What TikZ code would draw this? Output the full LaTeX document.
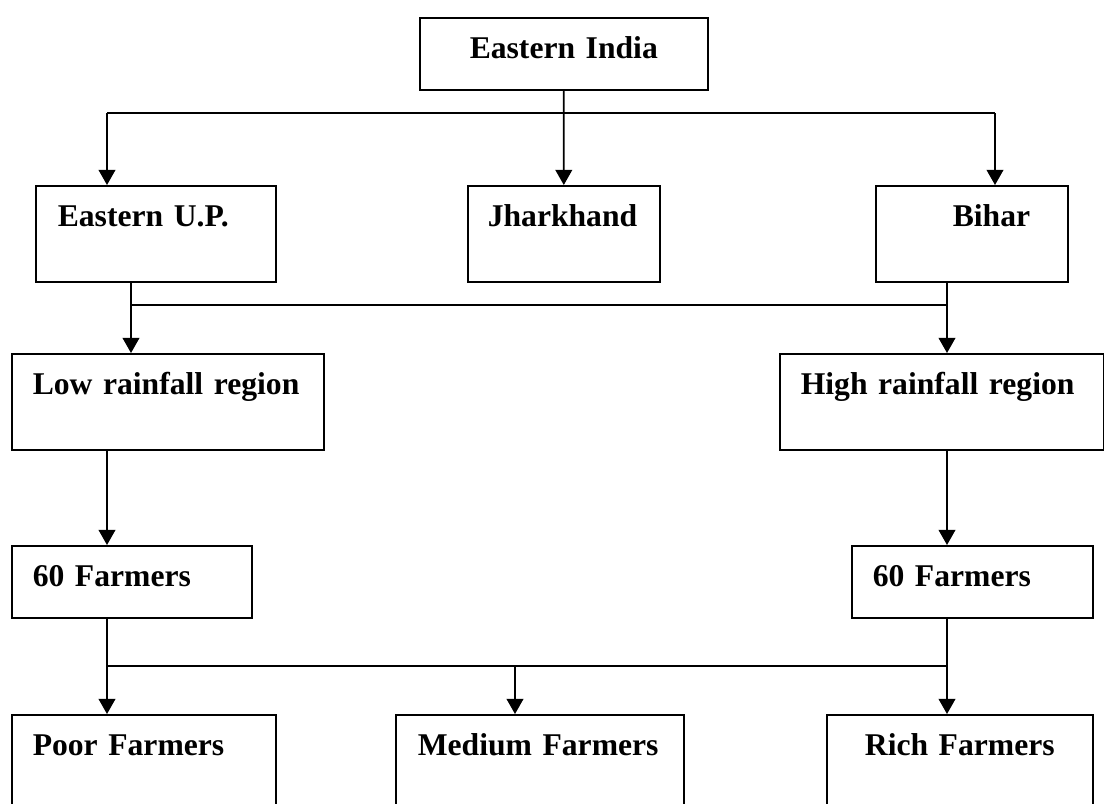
\documentclass[tikz,border=0pt]{standalone}
\usepackage{fontspec}
\setmainfont{Liberation Serif}
\usetikzlibrary{arrows.meta}

\begin{document}
\begin{tikzpicture}[x=0.025cm, y=-0.025cm]
	\tikzstyle{Box}   = [draw, rectangle, anchor=north west, inner sep=0pt, line width=1.1pt, font=\fontsize{22.5}{27}\selectfont\bfseries, text height=1.025cm, align=left]
	\tikzstyle{Tall}  = [text depth=1.375cm]
	\tikzstyle{Short} = [text depth=0.775cm]
	\tikzstyle{Mid}   = [align=center]
	\tikzstyle{Line}  = [line width=1.2pt]
	\tikzstyle{Arrow} = [Line, -{Triangle[width=0.42cm, length=0.38cm]}]
	\tikzset{Pad/.style={execute at begin node={\hspace*{#1}}}}

	\useasboundingbox (0,0) rectangle (1104,803);
	\clip (0,0) rectangle (1104,803);

	\node (ei) at (419,17) [Box][Short][Mid, text width=7.2cm] {Eastern India};

	\node (eup) at (35,185) [Box][Tall][text width=6cm, Pad=0.55cm] {Eastern U.P.};
	\node (jh) at (467,185) [Box][Tall][text width=4.8cm, Pad=0.5cm] {Jharkhand};
	\node (bihar) at (875,185) [Box][Tall][text width=4.8cm, Pad=1.925cm] {Bihar};

	\node (low) at (11,353) [Box][Tall][text width=7.8cm, Pad=0.525cm] {Low rainfall region};
	\node (high) at (779,353) [Box][Tall][text width=8.1cm, Pad=0.525cm] {High rainfall region};

	\node (fl) at (11,545) [Box][Short][text width=6cm, Pad=0.525cm] {60 Farmers};
	\node (fr) at (851,545) [Box][Short][text width=6.025cm, Pad=0.525cm] {60 Farmers};

	\node (poor) at (11,714) [Box][Tall][text width=6.6cm, Pad=0.525cm] {Poor Farmers};
	\node (med) at (395,714) [Box][Tall][text width=7.2cm, Pad=0.55cm] {Medium Farmers};
	\node (rich) at (826,714) [Box][Tall][Mid, text width=6.65cm] {Rich Farmers};

	% junction points of the branch lines
	\coordinate (tl) at (107,113);
	\coordinate (tr) at (995,113);
	\coordinate (ml) at (131,305);
	\coordinate (mr) at (947,305);
	\coordinate (bl) at (107,666);
	\coordinate (bm) at (515,666);
	\coordinate (br) at (947,666);

	\draw [Arrow] (ei) -- (jh);
	\draw [Line] (tl) -- (tr);
	\draw [Arrow] (tl) -- (tl |- eup.north);
	\draw [Arrow] (tr) -- (tr |- bihar.north);

	\draw [Line] (ml |- eup.south) -- (ml) -- (mr) -- (mr |- bihar.south);
	\draw [Arrow] (ml) -- (ml |- low.north);
	\draw [Arrow] (mr) -- (mr |- high.north);

	\draw [Arrow] (bl |- low.south) -- (bl |- fl.north);
	\draw [Arrow] (br |- high.south) -- (br |- fr.north);

	\draw [Line] (bl |- fl.south) -- (bl) -- (br) -- (br |- fr.south);
	\draw [Arrow] (bl) -- (bl |- poor.north);
	\draw [Arrow] (bm) -- (bm |- med.north);
	\draw [Arrow] (br) -- (br |- rich.north);
\end{tikzpicture}
\end{document}
